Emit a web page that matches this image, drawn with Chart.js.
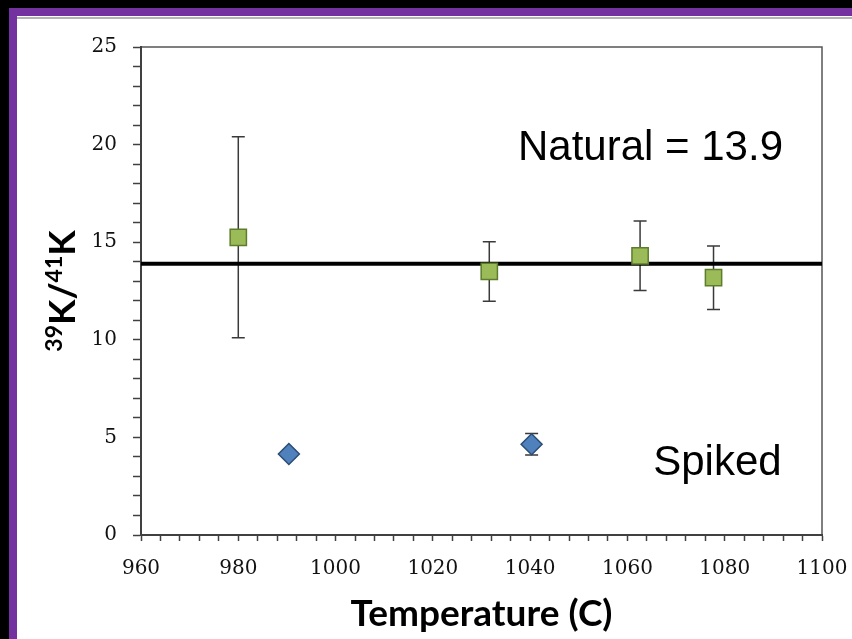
<!DOCTYPE html>
<html>
<head>
<meta charset="utf-8">
<script src="https://cdn.jsdelivr.net/npm/chart.js@4"></script>
<style>
  html, body { margin: 0; padding: 0; width: 852px; height: 639px; overflow: hidden; background: #000; }
  #purple { position: absolute; left: 9px; top: 8px; right: 0; bottom: 0; background: #7332a0; }
  #sheet { position: absolute; left: 17px; top: 16px; right: 0; bottom: 0; background: #fff; }
  #rule { position: absolute; left: 0; top: 1px; right: 0; height: 2px; background: #b4b4b4; }
  #wrap { position: absolute; left: 0; top: 3px; width: 835px; height: 620px; }
</style>
</head>
<body>
<div id="purple"></div>
<div id="sheet">
  <div id="rule"></div>
  <div id="wrap"><canvas id="chart" width="835" height="620"></canvas></div>
</div>
<script>
// values
const naturalTemps = [980, 1031.6, 1062.6, 1077.7];
const naturalRatio = [15.25, 13.5, 14.3, 13.18];
const naturalErr = [5.15, 1.52, 1.78, 1.63];

const spikedTemps = [990.4, 1040.3];
const spikedRatio = [4.15, 4.65];
const spikedErr = [0.2, 0.55];

const naturalValue = 13.9;
const xRange = [960, 1100];
const yRange = [0, 25];

const toPoints = (xs, ys) => xs.map((x, i) => ({ x, y: ys[i] }));

const errorBars = {
  id: 'errorBars',
  beforeDatasetsDraw(chart) {
    const { ctx, scales: { x, y } } = chart;
    ctx.save();
    ctx.strokeStyle = '#3a3a3a';
    ctx.lineWidth = 1.5;
    chart.data.datasets.forEach((ds) => {
      if (!ds.errors) return;
      ds.data.forEach((p, i) => {
        const px = x.getPixelForValue(p.x);
        const top = y.getPixelForValue(p.y + ds.errors[i]);
        const bot = y.getPixelForValue(p.y - ds.errors[i]);
        ctx.beginPath();
        ctx.moveTo(px, top);
        ctx.lineTo(px, bot);
        ctx.moveTo(px - 6.5, top);
        ctx.lineTo(px + 6.5, top);
        ctx.moveTo(px - 6.5, bot);
        ctx.lineTo(px + 6.5, bot);
        ctx.stroke();
      });
    });
    ctx.restore();
  },
};

const frameAndText = {
  id: 'frameAndText',
  beforeDraw(chart) {
    const { ctx, chartArea: { left, top, right, bottom } } = chart;
    ctx.save();
    ctx.strokeStyle = '#555';
    ctx.lineWidth = 1.5;
    ctx.beginPath();
    ctx.moveTo(left, top);
    ctx.lineTo(right, top);
    ctx.lineTo(right, bottom);
    ctx.stroke();
    ctx.restore();
  },
  afterDraw(chart) {
    const { ctx, chartArea, scales: { x, y } } = chart;
    ctx.save();
    ctx.fillStyle = '#000';
    ctx.font = '42px "Liberation Sans", Arial, sans-serif';
    ctx.textBaseline = 'alphabetic';
    ctx.fillText('Natural = ' + naturalValue, x.getPixelForValue(1037.5), y.getPixelForValue(19.2));
    ctx.fillText('Spiked', x.getPixelForValue(1065.3), y.getPixelForValue(3.05));

    // y axis title with superscripts
    const big = 'bold 37px Lato, sans-serif';
    const sup = 'bold 23px Lato, sans-serif';
    const parts = [['39', sup], ['K', big], ['/', big], ['41', sup], ['K', big]];
    let total = 0;
    parts.forEach(([t, f]) => { ctx.font = f; total += ctx.measureText(t).width; });
    ctx.translate(58, (chartArea.top + chartArea.bottom) / 2);
    ctx.rotate(-Math.PI / 2);
    let pos = -total / 2;
    parts.forEach(([t, f]) => {
      ctx.font = f;
      ctx.fillText(t, pos, f === sup ? -13 : 0);
      pos += ctx.measureText(t).width;
    });
    ctx.restore();
  },
};

new Chart(document.getElementById('chart'), {
  type: 'scatter',
  data: {
    datasets: [
      {
        label: 'Natural',
        data: toPoints(naturalTemps, naturalRatio),
        errors: naturalErr,
        pointStyle: 'rect',
        pointRadius: 11.5,
        backgroundColor: '#9bbb59',
        borderColor: '#5e7d2c',
        borderWidth: 1.5,
      },
      {
        label: 'Spiked',
        data: toPoints(spikedTemps, spikedRatio),
        errors: spikedErr,
        pointStyle: 'rectRot',
        pointRadius: 10.5,
        backgroundColor: '#4f81bd',
        borderColor: '#2c4d75',
        borderWidth: 1.5,
      },
      {
        type: 'line',
        label: 'Natural = 13.9',
        data: toPoints(xRange, [naturalValue, naturalValue]),
        borderColor: '#000',
        borderWidth: 4,
        pointRadius: 0,
      },
    ],
  },
  options: {
    responsive: false,
    animation: false,
    layout: {
      padding: { top: 24, right: 30, left: 0, bottom: 0 },
    },
    plugins: {
      legend: { display: false },
      tooltip: { enabled: false },
    },
    scales: {
      x: {
        type: 'linear',
        min: xRange[0],
        max: xRange[1],
        afterFit(scale) {
          scale.height = 104;
          scale.paddingLeft = 0;
          scale.paddingRight = 0;
        },
        border: { color: '#404040', width: 2 },
        grid: {
          drawOnChartArea: false,
          tickLength: 6,
          tickColor: '#404040',
          tickWidth: 1.5,
        },
        ticks: {
          stepSize: 4,
          autoSkip: false,
          maxRotation: 0,
          padding: 16,
          color: '#111',
          font: { family: '"DejaVu Serif", serif', size: 20 },
          callback: (v) => (v % 20 === 0 ? v : ''),
        },
        title: {
          display: true,
          text: 'Temperature (C)',
          color: '#000',
          padding: { top: 0, bottom: 3 },
          font: { family: 'Lato, sans-serif', size: 37, weight: 'bold' },
        },
      },
      y: {
        min: yRange[0],
        max: yRange[1],
        afterFit(scale) { scale.width = 124; },
        border: { color: '#404040', width: 2 },
        grid: {
          drawOnChartArea: false,
          tickLength: 8,
          tickColor: '#404040',
          tickWidth: 1.5,
        },
        ticks: {
          stepSize: 1,
          autoSkip: false,
          padding: 16,
          color: '#111',
          font: { family: '"DejaVu Serif", serif', size: 20 },
          callback: (v) => (v % 5 === 0 ? v : ''),
        },
      },
    },
  },
  plugins: [errorBars, frameAndText],
});
</script>
</body>
</html>
